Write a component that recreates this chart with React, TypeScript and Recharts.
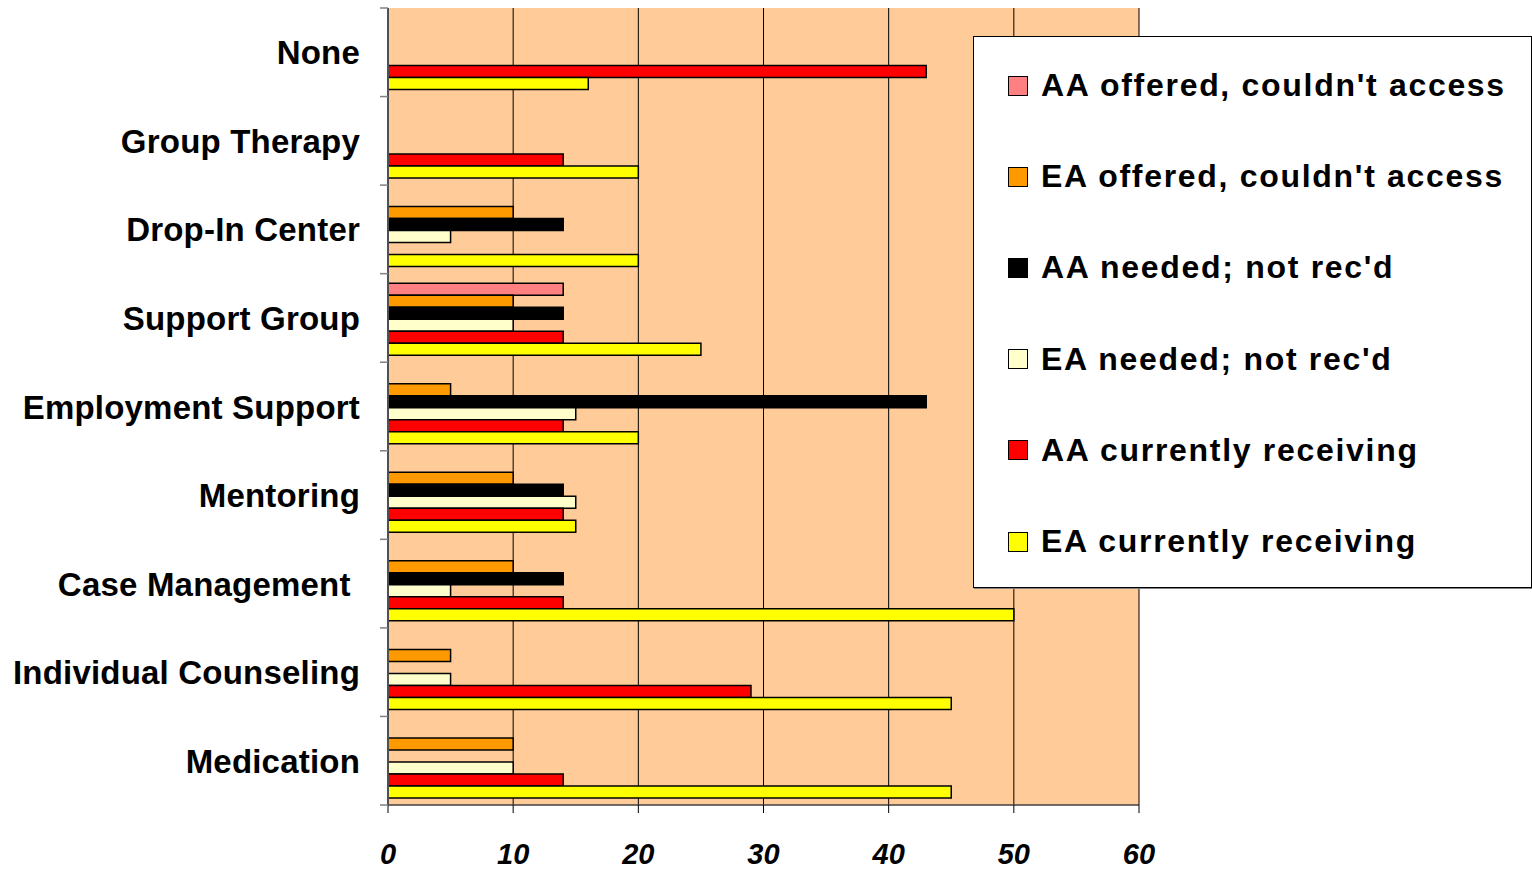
import React from "react";
import {
  BarChart,
  Bar,
  XAxis,
  YAxis,
  CartesianGrid,
  Legend,
} from "recharts";

const CATEGORIES = [
  "None",
  "Group Therapy",
  "Drop-In Center",
  "Support Group",
  "Employment Support",
  "Mentoring",
  "Case Management ",
  "Individual Counseling",
  "Medication",
];

const AA_OFFERED = [0, 0, 0, 14, 0, 0, 0, 0, 0];
const EA_OFFERED = [0, 0, 10, 10, 5, 10, 10, 5, 10];
const AA_NEEDED = [0, 0, 14, 14, 43, 14, 14, 0, 0];
const EA_NEEDED = [0, 0, 5, 10, 15, 15, 5, 5, 10];
const AA_CURRENT = [43, 14, 0, 14, 14, 14, 14, 29, 14];
const EA_CURRENT = [16, 20, 20, 25, 20, 15, 50, 45, 45];

const X_TICKS = [0, 10, 20, 30, 40, 50, 60];

const SERIES = [
  { key: "aaOffered", name: "AA offered, couldn't access", color: "#FF8080", values: AA_OFFERED },
  { key: "eaOffered", name: "EA offered, couldn't access", color: "#FF9900", values: EA_OFFERED },
  { key: "aaNeeded", name: "AA needed; not rec'd", color: "#000000", values: AA_NEEDED },
  { key: "eaNeeded", name: "EA needed; not rec'd", color: "#FFFFCC", values: EA_NEEDED },
  { key: "aaCurrent", name: "AA currently receiving", color: "#FF0000", values: AA_CURRENT },
  { key: "eaCurrent", name: "EA currently receiving", color: "#FFFF00", values: EA_CURRENT },
];

const data = CATEGORIES.map((name, i) => {
  const row: Record<string, string | number> = { name };
  SERIES.forEach((s) => {
    row[s.key] = s.values[i];
  });
  return row;
});

const W = 1532;
const H = 869;
const MARGIN = { top: 8, right: 393, bottom: 0, left: 0 };
const Y_AXIS_W = 388;
const X_AXIS_H = 64;
const BAND = (H - MARGIN.top - X_AXIS_H) / CATEGORIES.length;

const FONT = '"Liberation Sans", Arial, sans-serif';

const CategoryTick = (props: any) => {
  const { x, y, payload, index } = props;
  const top = y - BAND / 2;
  return (
    <g>
      <line x1={x} x2={x + 8} y1={top} y2={top} stroke="#808080" strokeWidth={1.5} />
      {index === CATEGORIES.length - 1 && (
        <line x1={x} x2={x + 8} y1={y + BAND / 2} y2={y + BAND / 2} stroke="#808080" strokeWidth={1.5} />
      )}
      <text
        x={x - 20}
        y={y + 12}
        textAnchor="end"
        fontFamily={FONT}
        fontWeight="bold"
        fontSize={33}
        fill="#000"
        style={{ whiteSpace: "pre", letterSpacing: "0.2px" }}
      >
        {payload.value}
      </text>
    </g>
  );
};

const ValueTick = (props: any) => {
  const { x, y, payload } = props;
  return (
    <text
      x={x}
      y={y + 51}
      textAnchor="middle"
      fontFamily='"Liberation Sans Narrow", "Arial Narrow", "Liberation Sans", sans-serif'
      fontWeight="bold"
      fontStyle="italic"
      fontSize={29}
      fill="#000"
    >
      {payload.value}
    </text>
  );
};

const LegendBox = (props: any) => {
  const payload = [...(props.payload || [])].sort(
    (a: any, b: any) =>
      SERIES.findIndex((s) => s.name === a.value) - SERIES.findIndex((s) => s.name === b.value)
  );
  return (
    <div
      style={{
        boxSizing: "border-box",
        width: "100%",
        height: "100%",
        background: "#fff",
        border: "1px solid #000",
        boxShadow: "1px 1px 0 #808080",
        paddingTop: 3,
        fontFamily: FONT,
      }}
    >
      {payload.map((item: any) => (
        <div
          key={item.value}
          style={{ height: 91.2, display: "flex", alignItems: "center", paddingLeft: 34 }}
        >
          <span
            style={{
              display: "inline-block",
              boxSizing: "border-box",
              width: 20,
              height: 20,
              background: item.color,
              border: "1.5px solid #000",
              marginRight: 13,
            }}
          />
          <span style={{ fontSize: 32, fontWeight: "bold", letterSpacing: "1.7px", color: "#000" }}>
            {item.value}
          </span>
        </div>
      ))}
    </div>
  );
};

export default function App() {
  return (
    <div style={{ position: "relative", width: W, height: H, background: "#fff" }}>
      <style>{"body{margin:0}"}</style>
      <BarChart
        width={W}
        height={H}
        data={data}
        layout="vertical"
        margin={MARGIN}
        barCategoryGap={9.5}
        barGap={0}
      >
        <CartesianGrid
          fill="#FFCC99"
          horizontal={false}
          vertical={true}
          stroke="#000"
          strokeWidth={1}
        />
        <XAxis
          type="number"
          domain={[0, 60]}
          ticks={X_TICKS}
          interval={0}
          height={X_AXIS_H}
          tickSize={8}
          tickMargin={0}
          tickLine={{ stroke: "#000" }}
          axisLine={{ stroke: "#404040", strokeWidth: 1.5 }}
          tick={<ValueTick />}
        />
        <XAxis
          xAxisId="top"
          orientation="top"
          type="number"
          domain={[0, 60]}
          height={0}
          tick={false}
          tickLine={false}
          axisLine={{ stroke: "#A0A0A0", strokeWidth: 1.5 }}
        />
        <YAxis
          type="category"
          dataKey="name"
          width={Y_AXIS_W}
          interval={0}
          tickLine={false}
          tickSize={8}
          tickMargin={0}
          axisLine={{ stroke: "#505050", strokeWidth: 2 }}
          tick={<CategoryTick />}
        />
        <YAxis
          yAxisId="right"
          orientation="right"
          type="category"
          dataKey="name"
          width={0}
          tick={false}
          tickLine={false}
          axisLine={{ stroke: "#A0A0A0", strokeWidth: 1.5 }}
        />
        {SERIES.map((s) => (
          <Bar
            key={s.key}
            dataKey={s.key}
            name={s.name}
            fill={s.color}
            stroke="#000"
            strokeWidth={1.5}
            isAnimationActive={false}
          />
        ))}
        <Legend
          layout="horizontal"
          align="center"
          verticalAlign="middle"
          content={<LegendBox />}
          wrapperStyle={{ left: 973, top: 36, width: 559, height: 552 }}
        />
      </BarChart>
    </div>
  );
}
